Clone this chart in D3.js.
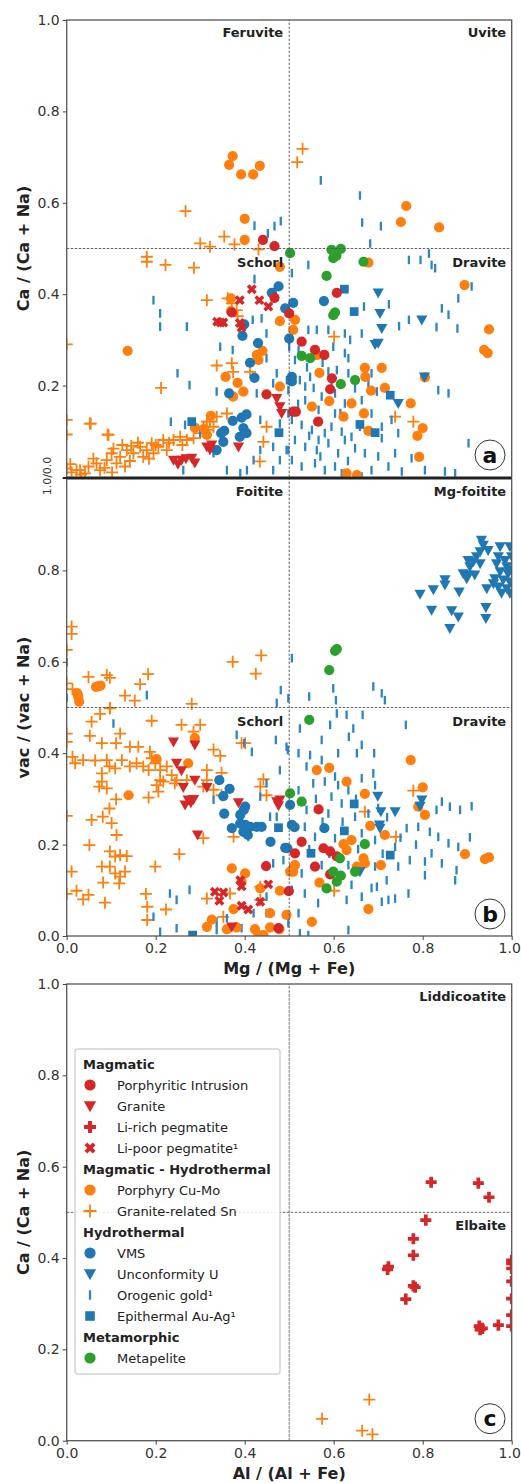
<!DOCTYPE html>
<html>
<head>
<meta charset="utf-8">
<script src="https://cdn.jsdelivr.net/npm/d3@7"></script>
<style>
  body { margin: 0; background: #fff; }
  text { font-family: "DejaVu Sans", sans-serif; }
</style>
</head>
<body>
<div id="chart"></div>
<script>
(function () {

  // ---------- Panel a : Ca/(Ca+Na) vs Mg/(Mg+Fe) ----------
  const aPorInt = [[0.441,0.519],[0.467,0.505],[0.371,0.360],[0.449,0.181],[0.467,0.392],[0.500,0.358],[0.509,0.143],[0.607,0.403],[0.528,0.296],[0.558,0.278],[0.579,0.267],[0.596,0.216],[0.592,0.192],[0.515,0.143],[0.565,0.121]]
  const aGranite = [[0.472,0.172],[0.479,0.154],[0.483,0.139],[0.240,0.037],[0.250,0.028],[0.258,0.037],[0.268,0.040],[0.281,0.041],[0.288,0.031],[0.315,0.066],[0.326,0.070],[0.386,0.066],[0.322,0.060]]
  const aLiPoor = [[0.389,0.387],[0.416,0.411],[0.433,0.387],[0.453,0.373],[0.338,0.340],[0.346,0.338],[0.352,0.338],[0.393,0.327],[0.389,0.337]]
  const aPorCuMo = [[0.365,0.683],[0.373,0.702],[0.392,0.662],[0.419,0.662],[0.434,0.681],[0.400,0.565],[0.400,0.519],[0.751,0.558],[0.763,0.593],[0.837,0.546],
    [0.137,0.276],[0.369,0.391],[0.369,0.363],[0.479,0.341],[0.479,0.460],[0.440,0.276],[0.427,0.267],[0.431,0.256],[0.357,0.219],[0.384,0.206],[0.397,0.187],[0.374,0.176],[0.324,0.134],[0.288,0.108],[0.309,0.106],[0.315,0.092],[0.479,0.198],
    [0.678,0.469],[0.894,0.420],[0.949,0.323],[0.938,0.278],[0.946,0.271],[0.513,0.344],[0.509,0.322],[0.562,0.267],[0.670,0.239],[0.708,0.239],[0.568,0.228],[0.671,0.219],[0.715,0.195],[0.684,0.189],[0.590,0.166],[0.640,0.161],[0.551,0.154],[0.668,0.139],[0.622,0.132],[0.773,0.161],[0.678,0.101],[0.800,0.107],[0.788,0.090],[0.792,0.044],[0.629,0.008],[0.652,0.004],[0.805,0.218]]
  const aGranSn = [[0.267,0.582],[0.300,0.511],[0.322,0.504],[0.354,0.526],[0.377,0.509],[0.518,0.689],[0.530,0.718],[0.431,0.498],
    [0.180,0.482],[0.180,0.471],[0.222,0.464],[0.286,0.458],[0.315,0.387],[0.362,0.391],[0.382,0.365],[0.371,0.380],[0.384,0.352],[0.0,0.290],[0.337,0.244],[0.371,0.249],[0.374,0.230],[0.412,0.230],[0.212,0.195],[0.0,0.125],[0.054,0.117],[0.0,0.093],[0.092,0.093],[0.360,0.139],[0.315,0.121],[0.449,0.110],[0.442,0.077],[0.434,0.034],
    [0.738,0.132],[0.779,0.121],[0.601,0.307],
    [0.0,0.019],[0.011,0.010],[0.022,0.015],[0.030,0.015],[0.041,0.008],[0.049,0.023],[0.067,0.030],[0.075,0.015],[0.090,0.037],[0.094,0.092],[0.101,0.052],[0.112,0.030],[0.120,0.044],[0.131,0.023],[0.135,0.059],[0.150,0.052],[0.165,0.066],[0.172,0.044],[0.180,0.059],[0.191,0.074],[0.195,0.052],[0.206,0.066],[0.217,0.081],[0.225,0.059],[0.240,0.081],[0.255,0.088],[0.270,0.081],[0.300,0.096],[0.307,0.110],[0.322,0.121],[0.337,0.132],[0.315,0.103],[0.052,0.117],[0.060,0.040],[0.085,0.020],[0.105,0.062],[0.125,0.070],[0.142,0.035],[0.160,0.075],[0.185,0.040],[0.200,0.070],[0.230,0.075],[0.260,0.070],[0.285,0.085],[0.330,0.110],[0.008,0.028],[0.032,0.005],[0.102,0.010],[0.145,0.068]]
  const aVMS = [[0.476,0.417],[0.461,0.403],[0.399,0.334],[0.395,0.309],[0.430,0.293],[0.412,0.250],[0.422,0.217],[0.365,0.183],[0.404,0.137],[0.393,0.130],[0.373,0.123],[0.354,0.101],[0.347,0.096],[0.397,0.107],[0.404,0.096],[0.389,0.088],[0.352,0.077],[0.337,0.059],[0.491,0.369],[0.500,0.303],[0.509,0.381],[0.578,0.385],[0.506,0.219],[0.506,0.209]]
  const aUncU = [[0.700,0.403],[0.704,0.358],[0.708,0.325],[0.700,0.293],[0.693,0.290],[0.798,0.344],[0.804,0.219],[0.745,0.161]]
  const aOroAu = [[0.571,0.649],[0.659,0.616],[0.422,0.550],[0.452,0.533],[0.467,0.549],[0.481,0.560],[0.664,0.557],[0.706,0.549],[0.682,0.511],
    [0.769,0.475],[0.795,0.475],[0.814,0.489],[0.820,0.464],[0.828,0.457],[0.543,0.464],[0.506,0.446],[0.910,0.417],[0.880,0.391],[0.668,0.373],[0.724,0.378],[0.843,0.369],[0.858,0.355],[0.769,0.344],[0.747,0.330],[0.831,0.328],[0.878,0.325],[0.543,0.322],[0.562,0.322],[0.588,0.322],[0.625,0.314],[0.637,0.300],[0.663,0.314],[0.500,0.285],[0.521,0.278],[0.599,0.285],[0.625,0.271],[0.633,0.260],[0.607,0.234],[0.588,0.231],[0.547,0.219],[0.524,0.212],[0.678,0.205],[0.648,0.194],[0.697,0.187],[0.835,0.190],[0.858,0.183],[0.603,0.183],[0.573,0.176],[0.536,0.168],[0.625,0.161],[0.663,0.168],[0.566,0.147],[0.603,0.139],[0.685,0.139],[0.730,0.125],[0.506,0.125],[0.528,0.114],[0.551,0.103],[0.580,0.096],[0.618,0.099],[0.640,0.088],[0.708,0.085],[0.745,0.096],[0.903,0.074],[0.513,0.081],[0.536,0.066],[0.562,0.059],[0.588,0.074],[0.610,0.052],[0.648,0.063],[0.670,0.052],[0.700,0.045],[0.738,0.052],[0.775,0.041],[0.506,0.037],[0.528,0.023],[0.558,0.030],[0.580,0.015],[0.603,0.023],[0.685,0.015],[0.723,0.023],[0.753,0.012],[0.805,0.015],[0.850,0.012],[0.873,0.008],[0.566,0.081],[0.625,0.081],[0.659,0.110],[0.708,0.110],[0.633,0.227],[0.513,0.256],[0.536,0.198],[0.685,0.227],[0.618,0.008],[0.663,0.001],[0.498,0.190],[0.498,0.139],[0.498,0.059],
    [0.422,0.433],[0.195,0.387],[0.210,0.358],[0.210,0.329],[0.270,0.329],[0.418,0.344],[0.438,0.347],[0.449,0.314],[0.345,0.285],[0.373,0.278],[0.449,0.260],[0.249,0.227],[0.276,0.201],[0.337,0.187],[0.472,0.227],[0.464,0.205],[0.427,0.183],[0.234,0.121],[0.266,0.114],[0.300,0.096],[0.435,0.125],[0.479,0.117],[0.435,0.059],[0.464,0.066],[0.494,0.059],[0.420,0.037],[0.405,0.015],[0.390,0.008],[0.330,0.052],[0.262,0.015],[0.464,0.015],[0.479,0.037],[0.360,0.015],
    [0.540,0.240],[0.555,0.195],[0.575,0.250],[0.595,0.205],[0.615,0.140],[0.545,0.090],[0.595,0.110],[0.520,0.160],[0.570,0.045],[0.632,0.035]]
  const aEpiAu = [[0.281,0.121],[0.477,0.097],[0.502,0.212],[0.624,0.411],[0.646,0.362],[0.727,0.179],[0.659,0.115],[0.693,0.097]]
  const aMetapel = [[0.502,0.490],[0.595,0.497],[0.616,0.499],[0.599,0.479],[0.606,0.484],[0.667,0.471],[0.584,0.440],[0.603,0.360],[0.599,0.354],[0.528,0.265],[0.547,0.260],[0.616,0.203],[0.648,0.212]]

  // ---------- Panel b : vac/(vac+Na) vs Mg/(Mg+Fe) ----------
  const bPorInt = [[0.448,0.153],[0.499,0.098],[0.476,0.017],[0.566,0.277],[0.528,0.206],[0.513,0.181],[0.577,0.192],[0.592,0.185],[0.607,0.174],[0.558,0.152],[0.592,0.135]]
  const bGranite = [[0.240,0.425],[0.288,0.418],[0.247,0.378],[0.258,0.362],[0.288,0.341],[0.262,0.325],[0.273,0.298],[0.285,0.299],[0.266,0.287],[0.279,0.292],[0.294,0.221],[0.315,0.325],[0.386,0.292],[0.472,0.294],[0.479,0.298],[0.476,0.285],[0.371,0.020]]
  const bLiPoor = [[0.390,0.122],[0.393,0.109],[0.453,0.113],[0.333,0.097],[0.352,0.095],[0.343,0.077],[0.393,0.066],[0.408,0.058],[0.435,0.075]]
  const bPorCuMo = [[0.071,0.546],[0.026,0.524],[0.028,0.513],[0.024,0.531],[0.076,0.548],[0.066,0.545],
    [0.139,0.308],[0.202,0.387],[0.288,0.433],[0.273,0.378],[0.371,0.148],[0.401,0.137],[0.393,0.119],[0.435,0.104],[0.479,0.099],[0.375,0.059],[0.326,0.036],[0.315,0.020],[0.360,0.015],[0.382,0.019],[0.423,0.015],[0.431,0.002],[0.442,0.002],[0.457,0.019],[0.478,0.015],[0.502,0.141],[0.457,0.050],
    [0.773,0.385],[0.800,0.325],[0.790,0.283],[0.805,0.265],[0.895,0.179],[0.940,0.168],[0.949,0.172],[0.562,0.363],[0.590,0.368],[0.629,0.338],[0.670,0.311],[0.682,0.241],[0.715,0.221],[0.640,0.210],[0.622,0.201],[0.629,0.188],[0.667,0.170],[0.670,0.159],[0.706,0.155],[0.652,0.152],[0.513,0.155],[0.509,0.141],[0.568,0.117],[0.678,0.059],[0.551,0.031],[0.494,0.046]]
  const bGranSn = [[0.011,0.677],[0.011,0.661],[0.0,0.626],[0.0,0.553],[0.013,0.540],[0.049,0.567],[0.090,0.571],[0.097,0.565],[0.131,0.526],[0.153,0.515],[0.165,0.551],[0.183,0.573],[0.281,0.508],[0.373,0.600],[0.425,0.574],[0.437,0.614],[0.097,0.499],
    [0.0,0.443],[0.0,0.425],[0.056,0.469],[0.075,0.486],[0.097,0.498],[0.120,0.443],[0.052,0.438],[0.079,0.422],[0.111,0.422],[0.142,0.414],[0.161,0.414],[0.187,0.403],[0.191,0.471],[0.258,0.462],[0.285,0.447],[0.300,0.462],[0.330,0.408],[0.345,0.394],[0.401,0.422],[0.013,0.392],[0.019,0.378],[0.037,0.385],[0.064,0.384],[0.090,0.385],[0.096,0.371],[0.109,0.367],[0.124,0.385],[0.142,0.371],[0.157,0.378],[0.172,0.371],[0.191,0.389],[0.199,0.378],[0.210,0.363],[0.225,0.371],[0.236,0.352],[0.184,0.363],[0.079,0.356],[0.079,0.338],[0.073,0.327],[0.090,0.323],[0.210,0.341],[0.202,0.330],[0.217,0.338],[0.243,0.334],[0.247,0.341],[0.270,0.341],[0.184,0.303],[0.206,0.316],[0.111,0.299],[0.096,0.279],[0.081,0.261],[0.056,0.254],[0.101,0.247],[0.0,0.263],[0.112,0.221],[0.051,0.199],[0.315,0.363],[0.348,0.357],[0.315,0.341],[0.307,0.327],[0.330,0.320],[0.348,0.308],[0.097,0.185],[0.109,0.174],[0.120,0.177],[0.135,0.175],[0.079,0.152],[0.097,0.152],[0.109,0.137],[0.120,0.130],[0.131,0.141],[0.011,0.141],[0.082,0.117],[0.118,0.115],[0.0,0.092],[0.022,0.099],[0.037,0.080],[0.049,0.090],[0.086,0.073],[0.199,0.152],[0.253,0.179],[0.307,0.214],[0.375,0.217],[0.393,0.422],[0.442,0.343],[0.449,0.308],[0.178,0.092],[0.181,0.064],[0.223,0.058],[0.181,0.035],[0.315,0.082],[0.367,0.093],[0.352,0.042],[0.435,0.079],[0.435,0.108],[0.435,0.327],
    [0.779,0.318],[0.670,0.272],[0.740,0.217],[0.601,0.099]]
  const bVMS = [[0.343,0.341],[0.366,0.322],[0.352,0.306],[0.401,0.283],[0.354,0.268],[0.390,0.265],[0.371,0.236],[0.390,0.246],[0.401,0.243],[0.412,0.239],[0.427,0.239],[0.438,0.239],[0.397,0.228],[0.407,0.221],[0.458,0.206],[0.491,0.193],[0.502,0.287],[0.506,0.243],[0.512,0.238],[0.579,0.236],[0.496,0.192],[0.398,0.276]]
  const bUncU = [[0.794,0.748],[0.824,0.758],[0.850,0.780],[0.850,0.768],[0.882,0.753],[0.820,0.713],[0.865,0.712],[0.880,0.698],[0.861,0.673],[0.942,0.719],[0.942,0.695],[0.944,0.760],[0.932,0.866],[0.936,0.855],[0.974,0.852],[0.996,0.852],[0.929,0.841],[0.947,0.844],[0.921,0.830],[0.902,0.822],[0.906,0.808],[0.914,0.819],[0.929,0.815],[0.891,0.793],[0.902,0.790],[0.917,0.790],[0.899,0.782],[0.970,0.830],[0.966,0.815],[0.985,0.822],[0.989,0.808],[0.974,0.797],[0.992,0.793],[0.962,0.782],[0.981,0.779],[0.996,0.775],[0.970,0.764],[0.989,0.760],[0.977,0.750],[0.959,0.771],[1.0,0.830],[1.0,0.800],[0.996,0.750],
    [0.699,0.306],[0.706,0.272],[0.738,0.272],[0.703,0.243],[0.704,0.236],[0.798,0.298],[0.794,0.284],[0.659,0.141]]
  const bOroAu = [[0.506,0.608],[0.0,0.599],[0.180,0.527],[0.481,0.538],[0.472,0.510],[0.498,0.520],[0.545,0.524],[0.599,0.542],[0.605,0.516],[0.689,0.546],[0.708,0.531],[0.715,0.516],[0.0,0.521],
    [0.105,0.465],[0.382,0.440],[0.399,0.422],[0.416,0.403],[0.470,0.429],[0.494,0.414],[0.479,0.363],[0.435,0.305],[0.449,0.334],[0.457,0.261],[0.472,0.261],[0.408,0.217],[0.330,0.298],[0.464,0.159],[0.487,0.166],[0.276,0.101],[0.232,0.093],[0.247,0.079],[0.195,0.042],[0.210,0.009],[0.247,0.017],[0.337,0.031],[0.360,0.039],[0.420,0.050],[0.449,0.050],[0.449,0.086],[0.337,0.013],[0.393,0.017],[0.498,0.028],
    [0.607,0.487],[0.629,0.484],[0.665,0.484],[0.762,0.462],[0.592,0.462],[0.644,0.454],[0.524,0.454],[0.634,0.436],[0.497,0.407],[0.521,0.400],[0.547,0.396],[0.573,0.385],[0.652,0.400],[0.691,0.400],[0.539,0.371],[0.603,0.349],[0.580,0.338],[0.554,0.334],[0.633,0.319],[0.663,0.345],[0.689,0.356],[0.693,0.330],[0.521,0.319],[0.595,0.305],[0.618,0.290],[0.539,0.276],[0.588,0.268],[0.648,0.261],[0.678,0.268],[0.843,0.294],[0.861,0.283],[0.884,0.276],[0.910,0.284],[0.831,0.276],[0.764,0.236],[0.790,0.239],[0.816,0.228],[0.835,0.217],[0.858,0.203],[0.880,0.195],[0.906,0.216],[0.535,0.239],[0.558,0.217],[0.603,0.214],[0.663,0.225],[0.693,0.210],[0.738,0.195],[0.771,0.166],[0.805,0.163],[0.820,0.181],[0.843,0.159],[0.876,0.144],[0.873,0.122],[0.745,0.152],[0.693,0.152],[0.633,0.155],[0.573,0.155],[0.528,0.137],[0.640,0.112],[0.685,0.105],[0.719,0.122],[0.805,0.133],[0.768,0.093],[0.738,0.082],[0.723,0.079],[0.708,0.075],[0.697,0.108],[0.663,0.086],[0.629,0.079],[0.565,0.072],[0.535,0.093],[0.506,0.101],[0.521,0.050],[0.633,0.013],[0.524,0.006],[0.543,0.002],[0.502,0.148],[0.663,0.418],[0.610,0.400],[0.573,0.429],
    [0.560,0.300],[0.610,0.330],[0.650,0.300],[0.575,0.250],[0.620,0.250],[0.700,0.280],[0.720,0.260],[0.750,0.215],[0.785,0.200],[0.710,0.180],[0.655,0.190],[0.590,0.180],[0.545,0.190]]
  const bEpiAu = [[0.476,0.237],[0.283,0.002],[0.646,0.289],[0.624,0.230],[0.549,0.181],[0.727,0.177]]
  const bMetapel = [[0.607,0.628],[0.603,0.624],[0.590,0.582],[0.502,0.312],[0.545,0.473],[0.528,0.294],[0.614,0.170],[0.599,0.141],[0.616,0.132],[0.607,0.119],[0.584,0.104],[0.648,0.141],[0.670,0.201]]

  // ---------- Panel c : Ca/(Ca+Na) vs Al/(Al+Fe) ----------
  const cLiRich = [[0.819,0.566],[0.925,0.564],[0.949,0.533],[0.807,0.483],[0.779,0.442],[0.779,0.406],[0.723,0.381],[0.721,0.375],[0.779,0.339],[0.783,0.336],[0.762,0.310],[0.927,0.251],[0.934,0.246],[0.929,0.243],[0.970,0.253],[1.0,0.251],[1.0,0.275],[1.0,0.311],[1.0,0.349],[1.0,0.377],[1.0,0.388],[1.0,0.395]]
  const cGranSn = [[0.574,0.048],[0.680,0.090],[0.664,0.022],[0.687,0.014]]

  // Ticks and labels
  const xTicks = [0, 0.2, 0.4, 0.6, 0.8, 1.0]
  const legendRows = [
    ['head', 'Magmatic'],
    ['porInt', 'Porphyritic Intrusion'],
    ['granite', 'Granite'],
    ['liRich', 'Li-rich pegmatite'],
    ['liPoor', 'Li-poor pegmatite¹'],
    ['head', 'Magmatic - Hydrothermal'],
    ['porCuMo', 'Porphyry Cu-Mo'],
    ['granSn', 'Granite-related Sn'],
    ['head', 'Hydrothermal'],
    ['vms', 'VMS'],
    ['uncU', 'Unconformity U'],
    ['oroAu', 'Orogenic gold¹'],
    ['epiAu', 'Epithermal Au-Ag¹'],
    ['head', 'Metamorphic'],
    ['metapel', 'Metapelite']
  ]

  // Marker styles
  const RED = '#d62728', ORANGE = '#ff7f0e', BLUE = '#1f77b4', GREEN = '#2ca02c'
  const markers = {
    porInt:  { shape: 'circle', color: RED },
    granite: { shape: 'tri',    color: RED },
    liRich:  { shape: 'cross',  color: RED },
    liPoor:  { shape: 'xcross', color: RED },
    porCuMo: { shape: 'circle', color: ORANGE },
    granSn:  { shape: 'plus',   color: ORANGE },
    vms:     { shape: 'circle', color: BLUE },
    uncU:    { shape: 'tri',    color: BLUE },
    oroAu:   { shape: 'vline',  color: '#2c86c6' },
    epiAu:   { shape: 'square', color: BLUE },
    metapel: { shape: 'circle', color: GREEN }
  }

  function markerPath(shape, s) {
    switch (shape) {
      case 'circle': return d3.symbol(d3.symbolCircle, 82 * s * s)()
      case 'tri': return `M${-5.6*s},${-4.4*s}H${5.6*s}L0,${5.6*s}Z`
      case 'cross': return d3.symbol(d3.symbolCross, 68 * s * s)()
      case 'xcross': return d3.symbol(d3.symbolCross, 62 * s * s)()
      case 'square': return d3.symbol(d3.symbolSquare, 76 * s * s)()
      case 'plus': return `M${-6*s},0H${6*s}M0,${-6*s}V${6*s}`
      case 'vline': return `M0,${-4.3*s}V${4.3*s}`
    }
  }

  function styleMarks(sel, key, s) {
    const m = markers[key]
    const stroked = m.shape === 'plus' || m.shape === 'vline'
    sel.attr('d', markerPath(m.shape, s))
      .attr('fill', stroked ? 'none' : m.color)
      .attr('stroke', stroked ? m.color : 'none')
      .attr('stroke-width', m.shape === 'plus' ? 1.8 : 2.3)
  }

  const width = 521, height = 1483
  const svg = d3.select('#chart').append('svg')
    .attr('width', width)
    .attr('height', height)

  const x = d3.scaleLinear().domain([0, 1]).range([66.7, 511.7])

  const panels = [
    { id: 'a', top: 20, bottom: 477, ylab: 'Ca / (Ca + Na)', yTicks: [0.2, 0.4, 0.6, 0.8, 1.0], xlab: null,
      tl: 'Feruvite', tr: 'Uvite', bl: 'Schorl', br: 'Dravite',
      series: [['granSn', aGranSn], ['oroAu', aOroAu], ['porCuMo', aPorCuMo], ['vms', aVMS], ['uncU', aUncU], ['epiAu', aEpiAu],
               ['porInt', aPorInt], ['granite', aGranite], ['liPoor', aLiPoor], ['metapel', aMetapel]] },
    { id: 'b', top: 479, bottom: 936, ylab: 'vac / (vac + Na)', yTicks: [0, 0.2, 0.4, 0.6, 0.8], xlab: 'Mg / (Mg + Fe)',
      tl: 'Foitite', tr: 'Mg-foitite', bl: 'Schorl', br: 'Dravite',
      series: [['granSn', bGranSn], ['oroAu', bOroAu], ['porCuMo', bPorCuMo], ['vms', bVMS], ['uncU', bUncU], ['epiAu', bEpiAu],
               ['porInt', bPorInt], ['granite', bGranite], ['liPoor', bLiPoor], ['metapel', bMetapel]] },
    { id: 'c', top: 984, bottom: 1440.7, ylab: 'Ca / (Ca + Na)', yTicks: [0, 0.2, 0.4, 0.6, 0.8, 1.0], xlab: 'Al / (Al + Fe)',
      tl: null, tr: 'Liddicoatite', bl: null, br: 'Elbaite',
      series: [['granSn', cGranSn], ['liRich', cLiRich]] }
  ]

  panels.forEach(p => {
    const y = d3.scaleLinear().domain([0, 1]).range([p.bottom, p.top])
    const g = svg.append('g')

    // clip
    g.append('clipPath').attr('id', 'clip-' + p.id)
      .append('rect')
      .attr('x', x(0)).attr('y', y(1))
      .attr('width', x(1) - x(0)).attr('height', y(0) - y(1))

    const plot = g.append('g').attr('clip-path', `url(#clip-${p.id})`)

    // Points
    p.series.forEach(([key, data]) => {
      const m = markers[key]
      plot.append('g').selectAll('path')
        .data(data)
        .join('path')
        .call(styleMarks, key, 1)
        .attr('transform', d => `translate(${x(d[0])},${y(d[1])})` +
          (m.shape === 'xcross' ? ' rotate(45)' : ''))
    })

    // Dashed dividers
    g.append('line')
      .attr('x1', x(0.5)).attr('x2', x(0.5))
      .attr('y1', y(0)).attr('y2', y(1))
      .attr('stroke', '#555').attr('stroke-width', 0.9).attr('stroke-dasharray', '2.5,1.5')
    g.append('line')
      .attr('x1', x(0)).attr('x2', x(1))
      .attr('y1', y(0.5)).attr('y2', y(0.5))
      .attr('stroke', '#555').attr('stroke-width', 0.9).attr('stroke-dasharray', '2.5,1.5')

    // Frame
    g.append('rect')
      .attr('x', x(0)).attr('y', y(1))
      .attr('width', x(1) - x(0)).attr('height', y(0) - y(1))
      .attr('fill', 'none').attr('stroke', '#555').attr('stroke-width', 1.3)

    // Y axis
    const yAxis = d3.axisLeft(y).tickValues(p.yTicks).tickFormat(d3.format('.1f')).tickSize(4).tickPadding(3)
    const ya = g.append('g').attr('transform', `translate(${x(0)},0)`).call(yAxis)
    ya.select('.domain').remove()
    ya.selectAll('text').attr('font-size', 14).attr('fill', '#333')
    ya.selectAll('line').attr('stroke', '#444')

    g.append('text')
      .attr('transform', `translate(23,${y(0.5)}) rotate(-90)`)
      .attr('text-anchor', 'middle').attr('dominant-baseline', 'central')
      .attr('font-size', 16).attr('font-weight', 'bold').attr('fill', '#222')
      .text(p.ylab)

    // X axis
    if (p.xlab) {
      const xAxis = d3.axisBottom(x).tickValues(xTicks).tickFormat(d3.format('.1f')).tickSize(4).tickPadding(3)
      const xa = g.append('g').attr('transform', `translate(0,${y(0)})`).call(xAxis)
      xa.select('.domain').remove()
      xa.selectAll('text').attr('font-size', 14).attr('fill', '#333')
      // keep the last label inside the page edge
      xa.selectAll('text').filter(d => d === 1).attr('dx', -2.5)
      xa.selectAll('line').attr('stroke', '#444')
      g.append('text')
        .attr('x', x(0.5)).attr('y', y(0) + 38)
        .attr('text-anchor', 'middle')
        .attr('font-size', 16).attr('font-weight', 'bold').attr('fill', '#222')
        .text(p.xlab)
    }

    // Quadrant names
    const quad = [[p.tl, x(0.5) - 6, y(1) + 17], [p.tr, x(1) - 5.5, y(1) + 17],
                  [p.bl, x(0.5) - 6, y(0.5) + 18], [p.br, x(1) - 5.5, y(0.5) + 18]]
    quad.filter(q => q[0]).forEach(q => {
      g.append('text').attr('x', q[1]).attr('y', q[2])
        .attr('text-anchor', 'end')
        .attr('font-size', 13).attr('font-weight', 'bold').attr('fill', '#222')
        .text(q[0])
    })

    // Panel letter
    g.append('circle').attr('cx', 490).attr('cy', y(0) - 22).attr('r', 15)
      .attr('fill', '#fff').attr('stroke', '#333').attr('stroke-width', 1)
    g.append('text').attr('x', 490).attr('y', y(0) - 22)
      .attr('text-anchor', 'middle').attr('dominant-baseline', 'central')
      .attr('font-size', 22).attr('font-weight', 'bold').attr('fill', '#111')
      .text(p.id)
  })

  // Shared border between a and b, and the combined tick label
  svg.append('line')
    .attr('x1', x(0) - 4).attr('x2', x(1))
    .attr('y1', 478).attr('y2', 478)
    .attr('stroke', '#222').attr('stroke-width', 2.2)
  svg.append('text')
    .attr('transform', 'translate(47,476) rotate(-90)')
    .attr('text-anchor', 'middle').attr('dominant-baseline', 'central')
    .attr('font-size', 11).attr('fill', '#333')
    .text('1.0/0.0')

  // Legend
  const legend = svg.append('g')
  legend.append('rect')
    .attr('x', 75).attr('y', 1049).attr('width', 205).attr('height', 325)
    .attr('rx', 2).attr('fill', '#fff').attr('fill-opacity', 0.85)
    .attr('stroke', '#bbb').attr('stroke-width', 1)

  legendRows.forEach((row, i) => {
    const cy = 1064 + i * 21
    if (row[0] === 'head') {
      legend.append('text').attr('x', 83).attr('y', cy + 5)
        .attr('font-size', 13).attr('font-weight', 'bold').attr('fill', '#222')
        .text(row[1])
    } else {
      const m = markers[row[0]]
      legend.append('path')
        .call(styleMarks, row[0], 1.1)
        .attr('transform', `translate(90,${cy})` + (m.shape === 'xcross' ? ' rotate(45)' : ''))
      legend.append('text').attr('x', 117).attr('y', cy + 5)
        .attr('font-size', 13).attr('fill', '#222')
        .text(row[1])
    }
  })

})();
</script>
</body>
</html>
